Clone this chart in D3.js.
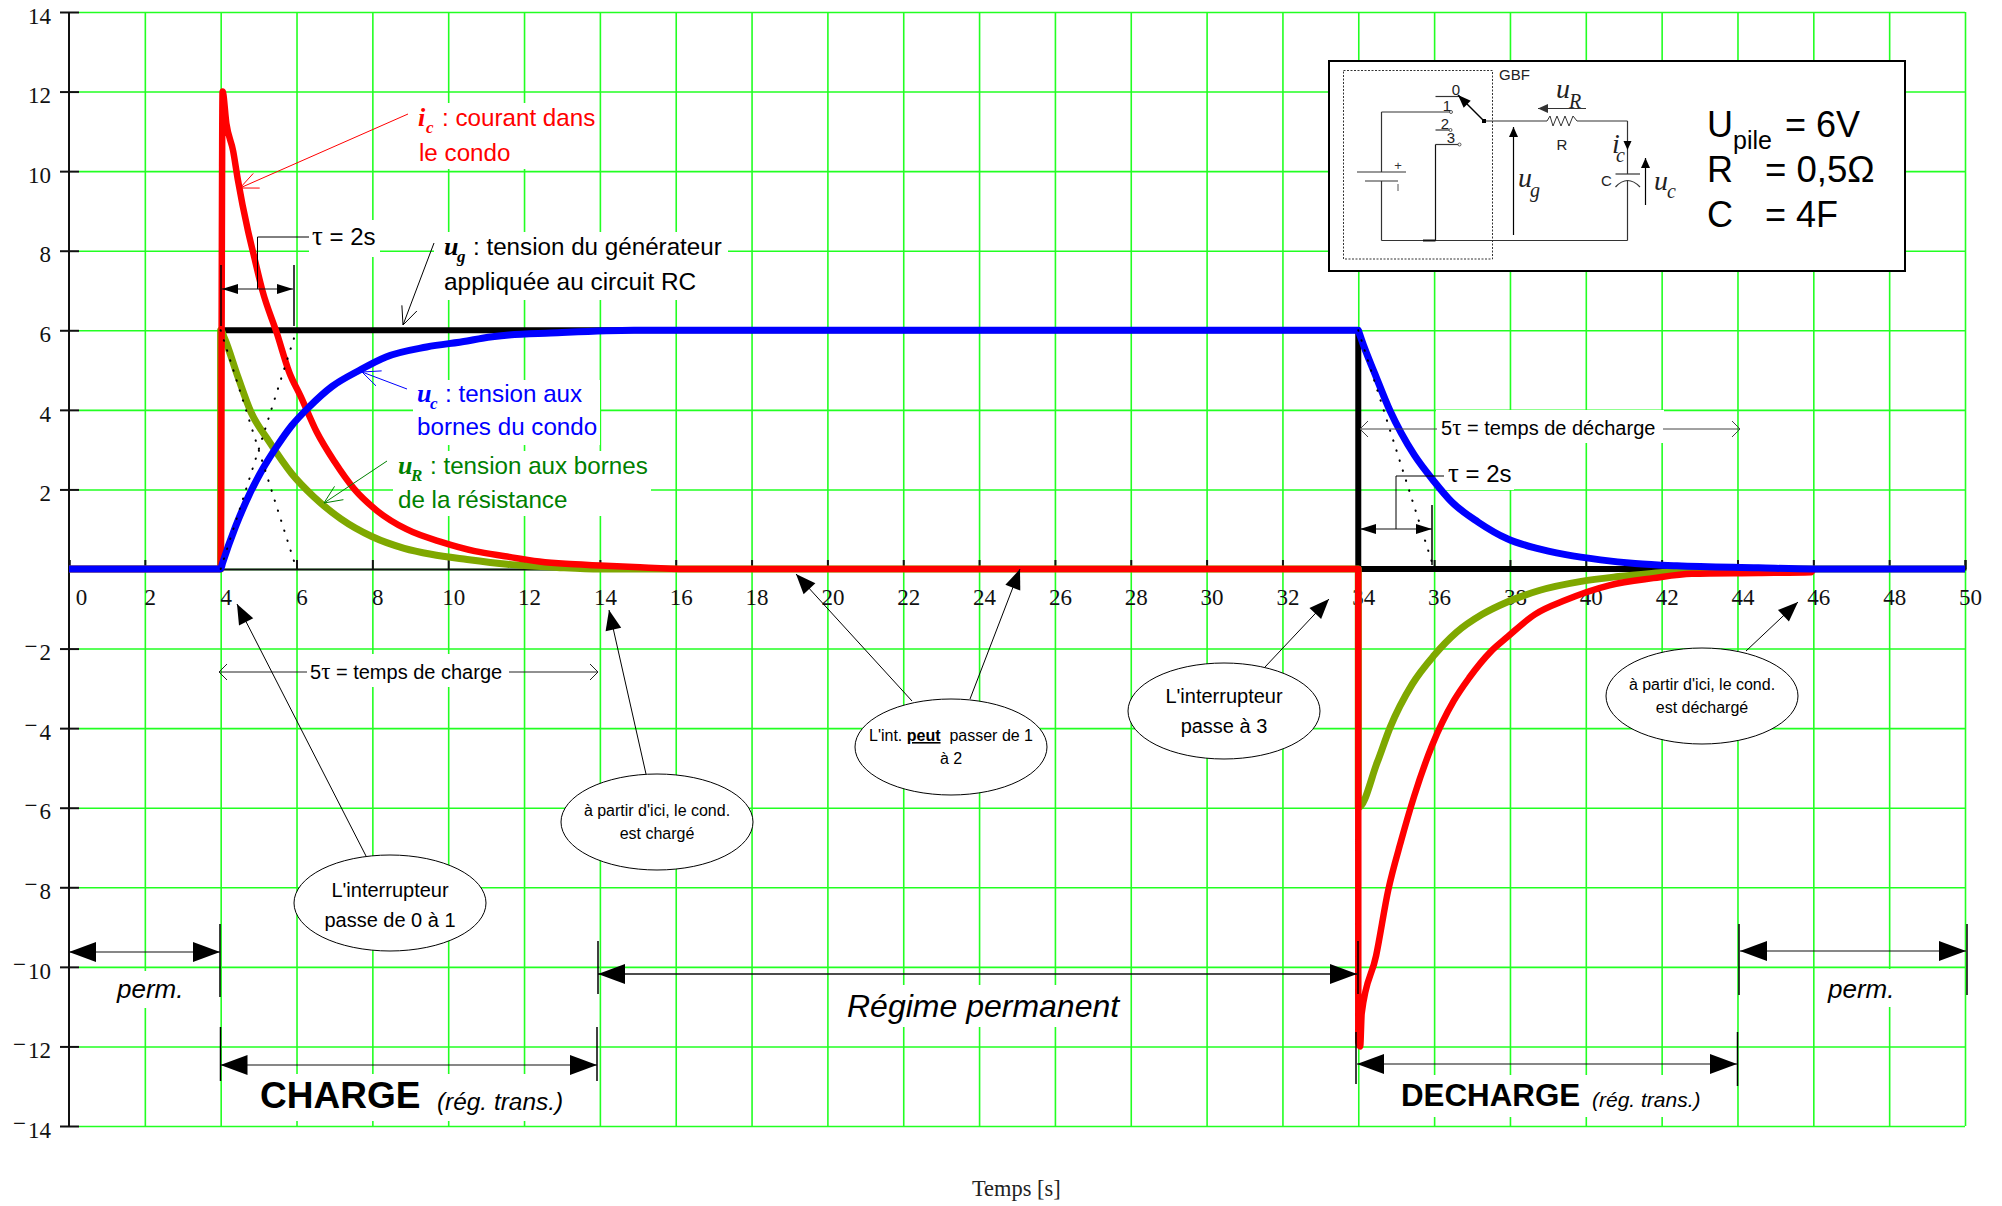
<!DOCTYPE html>
<html>
<head>
<meta charset="utf-8">
<script src="https://cdn.jsdelivr.net/npm/d3@7"></script>
<style>
html, body { margin: 0; padding: 0; background: #fff; }
svg { display: block; }
.sans { font-family: "Liberation Sans", Arial, sans-serif; }
.serif { font-family: "Liberation Serif", "Times New Roman", serif; }
</style>
</head>
<body>
<div id="chart"></div>
<script>
// tick labels
var xTicks = [0,2,4,6,8,10,12,14,16,18,20,22,24,26,28,30,32,34,36,38,40,42,44,46,48,50];
var yTicks = [14,12,10,8,6,4,2,-2,-4,-6,-8,-10,-12,-14];

// generator voltage
var ugT = [0,4,4,34,34,50];
var ugV = [0,0,6,6,0,0];

// voltage on the resistor
var urT = [0,4,4,4.1,4.45,4.8,5.28,5.87,6.46,7.17,8,8.84,9.55,10.5,11.56,12.87,14,34,34,34.5,34.84,35.42,36,36.58,37.27,37.93,38.77,39.88,40.86,42.1,42.8,44,50];
var urV = [0,0,6,5.8,4.84,3.94,3.2,2.4,1.81,1.26,.81,.52,.37,.24,.12,.04,0,0,-6,-4.86,-3.98,-2.9,-2.17,-1.6,-1.14,-.83,-.54,-.31,-.19,-.08,-.02,0,0];

// current in the capacitor
var icT = [0,4,4.05,4.15,4.33,4.45,4.72,4.87,5.1,5.48,5.81,6.11,6.53,7,7.53,8.13,8.9,9.85,10.7,11.5,12.4,13.1,14,14.9,16.3,34,34,34.05,34.09,34.47,34.79,35.13,35.48,35.94,36.52,36.92,37.5,37.93,38.66,39.47,40.62,41.78,42.8,44.55,45.94,46];
var icV = [0,0,12,11.2,10.5,9.8,8.5,7.9,7,5.93,4.94,4.34,3.45,2.7,2,1.46,1,.67,.45,.32,.19,.13,.09,.05,0,0,-11.9,-12,-11.17,-9.72,-8.07,-6.83,-5.69,-4.45,-3.31,-2.74,-2.07,-1.71,-1.14,-.78,-.41,-.23,-.12,-.1,-.08,0];

// voltage on the capacitor
var ucT = [0,4,4.05,4.39,4.75,5.1,5.46,5.87,6.35,6.94,7.65,8.36,9.43,10.5,10.9,11.6,12.7,14.9,34,34.03,34.09,34.44,34.84,35.13,35.48,36,36.46,37.16,37.93,38.66,39.47,40.39,41.3,42.4,44.55,46,50];
var ucV = [0,0,.15,1.06,1.86,2.5,3.05,3.6,4.09,4.59,4.99,5.33,5.58,5.73,5.8,5.88,5.93,6,6,5.92,5.75,4.9,3.97,3.42,2.86,2.2,1.69,1.18,.76,.53,.36,.23,.14,.08,.03,0,0];

// dotted tangents
var tangentA = [[4,6],[6,0]];
var tangentB = [[4,0],[6,6]];
var tangentC = [[34,6],[36,0]];

var width = 2002;
var height = 1206;

var svg = d3.select("#chart").append("svg")
    .attr("width", width)
    .attr("height", height);

var x_scale = d3.scaleLinear().domain([0, 50]).range([69, 1965]);
var y_scale = d3.scaleLinear().domain([14, -14]).range([12, 1126]);

var green = "#22ff22";

// grid
svg.append("g")
    .attr("transform", "translate(0," + y_scale(-14) + ")")
    .call(d3.axisBottom(x_scale).tickValues(xTicks.slice(1)).tickSize(-(y_scale(-14) - y_scale(14))).tickFormat(""))
    .call(function(g){
        g.select(".domain").remove();
        g.selectAll("line").attr("stroke", green).attr("stroke-width", 1.6);
    });

svg.append("g")
    .attr("transform", "translate(" + x_scale(50) + ",0)")
    .call(d3.axisLeft(y_scale).tickValues(yTicks.concat([0])).tickSize(x_scale(50) - 79).tickFormat(""))
    .call(function(g){
        g.select(".domain").remove();
        g.selectAll("line").attr("stroke", green).attr("stroke-width", 1.6);
    });

// white patches behind the texts
var patches = [
    [413,103,183,66],[309,220,71,37],[434,232,294,68],[413,380,187,65],[393,451,258,65],
    [307,654,202,33],[110,971,80,37],[840,985,288,42],[225,1074,370,47],[1362,1075,373,42],
    [1820,969,80,38],[1436,410,228,33],[1445,443,69,47]
];
svg.append("g").selectAll("rect").data(patches).enter().append("rect")
    .attr("x", function(d){ return d[0]; })
    .attr("y", function(d){ return d[1]; })
    .attr("width", function(d){ return d[2]; })
    .attr("height", function(d){ return d[3]; })
    .attr("fill", "#fff");

// axes
svg.append("line")
    .attr("x1", x_scale(0)).attr("x2", x_scale(0))
    .attr("y1", y_scale(14)).attr("y2", y_scale(-14))
    .attr("stroke", "#111").attr("stroke-width", 2);

svg.append("g")
    .attr("transform", "translate(" + (x_scale(0) + 10) + ",0)")
    .call(d3.axisLeft(y_scale).tickValues(yTicks).tickSize(19).tickPadding(9).tickFormat(function(d){ return d; }))
    .call(function(g){
        g.select(".domain").remove();
        g.selectAll("line").attr("stroke", "#111").attr("stroke-width", 2);
        g.selectAll("text")
            .attr("class", "serif")
            .style("font-size", "23px")
            .attr("fill", "#111")
            .attr("dy", "0.49em")
            .each(function(d){
                if (d < 0) {
                    var t = d3.select(this).text("");
                    t.append("tspan").attr("dy", "0.2em").text("\u2212");
                    t.append("tspan").attr("dy", "0.29em").attr("dx", "2").text(Math.abs(d));
                }
            });
    });

svg.append("g")
    .attr("transform", "translate(0," + y_scale(0) + ")")
    .call(d3.axisBottom(x_scale).tickValues(xTicks).tickSize(-9).tickPadding(0).tickFormat(function(d){ return d; }))
    .call(function(g){
        g.select(".domain").attr("stroke", "#111").attr("stroke-width", 2);
        g.selectAll("line").attr("stroke", "#111").attr("stroke-width", 2);
        g.selectAll("text")
            .attr("class", "serif")
            .style("font-size", "23px")
            .attr("fill", "#111")
            .attr("y", 36)
            .attr("dy", 0)
            .attr("dx", function(d){ return d == 0 ? 12 : 5; });
    });

// curves
var line = d3.line()
    .x(function(d){ return x_scale(d[0]); })
    .y(function(d){ return y_scale(d[1]); });

function drawCurve(ts, vs, color, w, curve) {
    svg.append("path")
        .attr("d", line.curve(curve)(ts.map(function(t, i){ return [t, vs[i]]; })))
        .attr("fill", "none")
        .attr("stroke", color)
        .attr("stroke-width", w)
        .attr("stroke-linejoin", "round");
}
drawCurve(ugT, ugV, "#000", 6, d3.curveLinear);
drawCurve(urT, urV, "#7fa800", 7, d3.curveMonotoneX);
drawCurve(icT, icV, "#ff0000", 6.5, d3.curveMonotoneX);
drawCurve(ucT, ucV, "#0000ff", 7, d3.curveMonotoneX);

[tangentA, tangentB, tangentC].forEach(function(t){
    svg.append("path")
        .attr("d", line.curve(d3.curveLinear)(t))
        .attr("fill", "none")
        .attr("stroke", "#000")
        .attr("stroke-width", 2)
        .attr("stroke-linecap", "round")
        .attr("stroke-dasharray", "0.5 10");
});

// annotation helpers
function seg(x1, y1, x2, y2, color, w) {
    return svg.append("line")
        .attr("x1", x1).attr("y1", y1).attr("x2", x2).attr("y2", y2)
        .attr("stroke", color || "#000").attr("stroke-width", w || 1);
}

function head(x1, y1, x2, y2, len, half, color) {
    var a = Math.atan2(y2 - y1, x2 - x1);
    var bx = x2 - len * Math.cos(a), by = y2 - len * Math.sin(a);
    var nx = -Math.sin(a) * half, ny = Math.cos(a) * half;
    svg.append("polygon")
        .attr("points", [x2, y2, bx + nx, by + ny, bx - nx, by - ny].join(" "))
        .attr("fill", color || "#000");
}

function arrow(x1, y1, x2, y2, len, half, color, w) {
    seg(x1, y1, x2, y2, color, w);
    head(x1, y1, x2, y2, len, half, color);
}

function openHead(x1, y1, x2, y2, len, half, color) {
    var a = Math.atan2(y2 - y1, x2 - x1);
    var bx = x2 - len * Math.cos(a), by = y2 - len * Math.sin(a);
    var nx = -Math.sin(a) * half, ny = Math.cos(a) * half;
    seg(x2, y2, bx + nx, by + ny, color, 1);
    seg(x2, y2, bx - nx, by - ny, color, 1);
}

function openArrow(x1, y1, x2, y2, color) {
    seg(x1, y1, x2, y2, color, 1);
    openHead(x1, y1, x2, y2, 18, 8, color);
}

function txt(x, y, s, size, opts) {
    opts = opts || {};
    return svg.append("text")
        .attr("x", x).attr("y", y)
        .attr("class", opts.serif ? "serif" : "sans")
        .attr("text-anchor", opts.anchor || "start")
        .attr("fill", opts.color || "#000")
        .style("font-size", size + "px")
        .style("font-style", opts.italic ? "italic" : "normal")
        .style("font-weight", opts.bold ? "bold" : "normal")
        .text(s);
}

// the tau comes from a serif face in the original
function tauText(x, y, before, after, size) {
    var t = txt(x, y, before, size);
    t.append("tspan").attr("class", "serif").style("font-size", (size + 3) + "px").text("\u03c4");
    t.append("tspan").text(after);
}

function symbol(x, y, main, sub, color, off) {
    txt(x, y, main, 26, {serif: true, italic: true, bold: true, color: color});
    txt(x + off, y + 7, sub, 17, {serif: true, italic: true, bold: true, color: color});
}

function doubleArrow(x1, x2, y, len, half, w) {
    seg(x1, y, x2, y, "#111", w || 1.2);
    head(x2, y, x1, y, len, half);
    head(x1, y, x2, y, len, half);
}

function bubble(cx, cy, rx, ry) {
    svg.append("ellipse")
        .attr("cx", cx).attr("cy", cy).attr("rx", rx).attr("ry", ry)
        .attr("fill", "#fff").attr("stroke", "#000").attr("stroke-width", 1);
}

// curve labels
symbol(418, 126, "i", "c", "#ff0000", 8);
txt(442, 126, ": courant dans", 24.2, {color: "#ff0000"});
txt(419, 161, "le condo", 24.2, {color: "#ff0000"});
openArrow(408, 114, 240, 188, "#ff0000");

symbol(444, 255, "u", "g", "#000", 13);
txt(473, 255, ": tension du g\u00e9n\u00e9rateur", 24.2);
txt(444, 290, "appliqu\u00e9e au circuit RC", 24.4);
openArrow(434, 243, 403, 325, "#000");

symbol(417, 402, "u", "c", "#0000ff", 13);
txt(445, 402, ": tension aux", 24.2, {color: "#0000ff"});
txt(417, 435, "bornes du condo", 24.2, {color: "#0000ff"});
openArrow(407, 389, 362, 372, "#0000ff");

symbol(398, 474, "u", "R", "#008000", 13);
txt(430, 474, ": tension aux bornes", 24.2, {color: "#008000"});
txt(398, 508, "de la r\u00e9sistance", 24.2, {color: "#008000"});
openArrow(387, 461, 324, 503, "#008000");

// tau, charge side
seg(309, 237, 257.5, 237);
seg(257.5, 237, 257.5, 289);
tauText(312, 245, "", " = 2s", 24);
seg(221, 265, 221, 326, "#000", 1.5);
seg(294, 265, 294, 326, "#000", 1.5);
doubleArrow(222, 293, 289, 16, 5, 1);

// tau, discharge side
seg(1444, 476, 1396, 476);
seg(1396, 476, 1396, 529);
tauText(1448, 482, "", " = 2s", 24);
seg(1432, 505, 1432, 565, "#000", 1.5);
doubleArrow(1360, 1432, 529, 16, 5, 1);

// 5 tau
seg(219, 672, 307, 672, "#222");
seg(509, 672, 598, 672, "#222");
openHead(300, 672, 219, 672, 8, 8, "#222");
openHead(510, 672, 598, 672, 8, 8, "#222");
tauText(310, 679, "5", " = temps de charge", 20);

seg(1360, 429, 1437, 429, "#444");
seg(1663, 429, 1740, 429, "#444");
openHead(1400, 429, 1360, 429, 8, 8, "#444");
openHead(1700, 429, 1740, 429, 8, 8, "#444");
tauText(1441, 435, "5", " = temps de d\u00e9charge", 20);

// bubbles
arrow(366, 856, 237, 604, 20, 8);
bubble(390, 903, 96, 48);
txt(390, 897, "L'interrupteur", 20, {anchor: "middle"});
txt(390, 927, "passe de 0 \u00e0 1", 20, {anchor: "middle"});

arrow(646, 774, 609, 610, 20, 8);
bubble(657, 822, 96, 48);
txt(657, 816, "\u00e0 partir d'ici, le cond.", 16, {anchor: "middle"});
txt(657, 839, "est charg\u00e9", 16, {anchor: "middle"});

arrow(912, 701, 796, 574, 20, 8);
arrow(970, 699, 1020, 569, 20, 8);
bubble(951, 747, 96, 48);
var peut = txt(951, 741, "L'int. ", 16, {anchor: "middle"});
peut.append("tspan").style("font-weight", "bold").style("text-decoration", "underline").text("peut");
peut.append("tspan").attr("xml:space", "preserve").style("white-space", "pre").text("  passer de 1");
txt(951, 764, "\u00e0 2", 16, {anchor: "middle"});

arrow(1265, 667, 1329, 599, 20, 8);
bubble(1224, 711, 96, 48);
txt(1224, 703, "L'interrupteur", 20, {anchor: "middle"});
txt(1224, 733, "passe \u00e0 3", 20, {anchor: "middle"});

arrow(1746, 651, 1798, 602, 20, 8);
bubble(1702, 696, 96, 48);
txt(1702, 690, "\u00e0 partir d'ici, le cond.", 16, {anchor: "middle"});
txt(1702, 713, "est d\u00e9charg\u00e9", 16, {anchor: "middle"});

// phases
doubleArrow(69, 220, 952, 27, 10);
seg(220, 924, 220, 997, "#000", 1.5);
txt(117, 998, "perm.", 26, {italic: true});

doubleArrow(598, 1357, 974, 27, 10, 1.5);
seg(598, 941, 598, 994, "#000", 1.5);
seg(1358, 941, 1358, 994, "#000", 1.5);
txt(847, 1017, "R\u00e9gime permanent", 32, {italic: true});

doubleArrow(220.5, 597, 1065, 27, 10);
seg(220.5, 1027, 220.5, 1081, "#000", 1.5);
seg(597, 1027, 597, 1081, "#000", 1.5);
txt(260, 1108, "CHARGE", 37, {bold: true});
txt(437, 1110, "(r\u00e9g. trans.)", 24.4, {italic: true});

doubleArrow(1357, 1737, 1064, 27, 10);
seg(1356, 1032, 1356, 1084, "#000", 1.5);
seg(1737.5, 1032, 1737.5, 1086, "#000", 1.5);
txt(1401, 1106, "DECHARGE", 31.3, {bold: true});
txt(1592, 1107, "(r\u00e9g. trans.)", 21, {italic: true});

doubleArrow(1740, 1966, 951, 27, 10);
seg(1739, 924, 1739, 995, "#000", 1.5);
seg(1967, 924, 1967, 995, "#000", 1.5);
txt(1828, 998, "perm.", 26, {italic: true});

txt(972, 1196, "Temps [s]", 22.4, {serif: true, color: "#222"});

// circuit box
svg.append("rect")
    .attr("x", 1329).attr("y", 61).attr("width", 576).attr("height", 210)
    .attr("fill", "#fff").attr("stroke", "#000").attr("stroke-width", 2);
svg.append("rect")
    .attr("x", 1343.5).attr("y", 70.5).attr("width", 149).attr("height", 188.5)
    .attr("fill", "none").attr("stroke", "#333").attr("stroke-width", 1).attr("stroke-dasharray", "2 1.5");
txt(1499, 80, "GBF", 15, {color: "#222"});

var wire = "#333";
seg(1451, 112, 1381.5, 112, wire, 1.2);
seg(1381.5, 112, 1381.5, 172, wire, 1.2);
seg(1381.5, 181, 1381.5, 240.5, wire, 1.2);
seg(1381.5, 240.5, 1627.5, 240.5, wire, 1.2);
seg(1627.5, 240.5, 1627.5, 180, wire, 1.2);
seg(1627.5, 174, 1627.5, 121, wire, 1.2);
seg(1627.5, 121, 1577, 121, wire, 1.2);
seg(1547, 121, 1484, 121, wire, 1.2);
svg.append("polyline")
    .attr("points", "1547,121 1550,116 1553,126 1557,116 1561,126 1565,116 1569,126 1573,116 1577,121")
    .attr("fill", "none").attr("stroke", wire).attr("stroke-width", 1);

seg(1435.5, 96.5, 1460, 96.5, wire, 1.2);
seg(1435.5, 130, 1450.5, 130, wire, 1.2);
seg(1435.5, 144.5, 1459.5, 144.5, wire, 1.2);
seg(1435.5, 144.5, 1435.5, 240.5, "#111", 1.2);
seg(1423, 240.5, 1435.5, 240.5, "#111", 2);
[[1451,112],[1450.5,130],[1459.5,144.5]].forEach(function(p){
    svg.append("circle").attr("cx", p[0]).attr("cy", p[1]).attr("r", 1.5)
        .attr("fill", "#fff").attr("stroke", "#333").attr("stroke-width", 0.8);
});
svg.append("rect").attr("x", 1482).attr("y", 119).attr("width", 4).attr("height", 4).attr("fill", "#000");
arrow(1484, 121, 1458, 95, 13, 5, "#000", 1.5);
txt(1456, 95, "0", 15, {anchor: "middle", color: "#222"});
txt(1447, 111, "1", 15, {anchor: "middle", color: "#222"});
txt(1445, 129, "2", 15, {anchor: "middle", color: "#222"});
txt(1451, 143, "3", 15, {anchor: "middle", color: "#222"});

seg(1357, 172, 1406, 172, wire, 1.2);
seg(1365, 181, 1398, 181, wire, 1.2);
txt(1398, 170, "+", 13, {anchor: "middle", color: "#333"});
seg(1398, 184, 1398, 191, "#555", 1);

arrow(1513.5, 235, 1513.5, 127, 10, 4.5, "#000", 1.2);
txt(1518, 187, "u", 28, {serif: true, italic: true, color: "#222"});
txt(1530, 197, "g", 20, {serif: true, italic: true, color: "#222"});

arrow(1586, 108.5, 1538, 108.5, 10, 4.5, "#333", 1.2);
txt(1556, 98, "u", 28, {serif: true, italic: true, color: "#222"});
txt(1569, 108, "R", 20, {serif: true, italic: true, color: "#222"});
txt(1562, 150, "R", 15, {anchor: "middle", color: "#222"});

head(1627.5, 130, 1627.5, 150, 9, 4);
txt(1612, 153, "i", 28, {serif: true, italic: true, color: "#222"});
txt(1616, 162, "c", 20, {serif: true, italic: true, color: "#222"});

seg(1615.5, 174, 1640, 174, wire, 1.2);
svg.append("path").attr("d", "M1615.5,187 Q1627.5,174 1640,187")
    .attr("fill", "none").attr("stroke", wire).attr("stroke-width", 1.2);
txt(1606.5, 186, "C", 15, {anchor: "middle", color: "#222"});

arrow(1645.5, 205, 1645.5, 158, 10, 4.5, "#000", 1.2);
txt(1654, 190, "u", 28, {serif: true, italic: true, color: "#222"});
txt(1667, 198, "c", 20, {serif: true, italic: true, color: "#222"});

txt(1707, 137, "U", 36);
txt(1733, 149, "pile", 25);
txt(1785, 137, "= 6V", 36);
txt(1707, 182, "R", 36);
txt(1765, 182, "= 0,5\u03a9", 36.6);
txt(1707, 227, "C", 36);
txt(1765, 227, "= 4F", 36);
</script>
</body>
</html>
